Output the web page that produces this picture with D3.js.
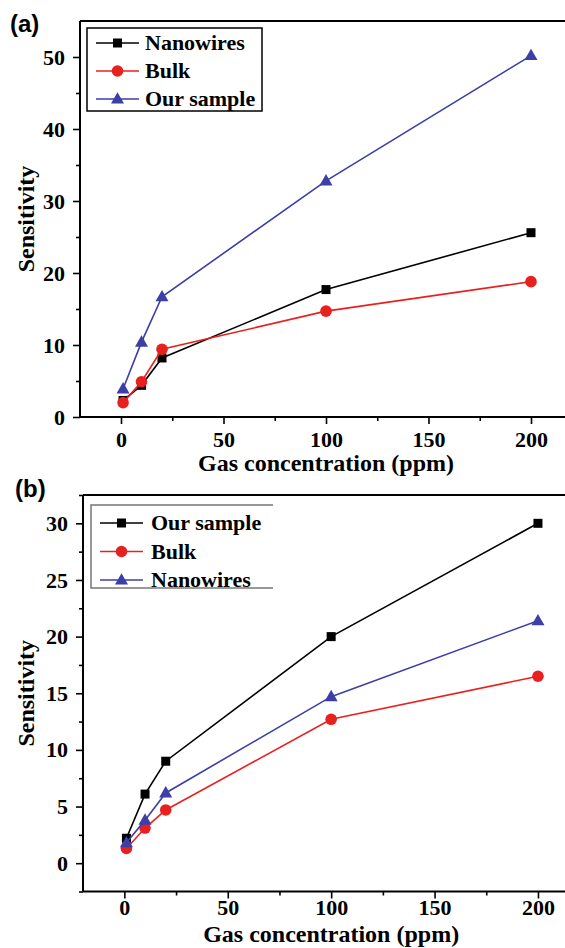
<!DOCTYPE html>
<html>
<head>
<meta charset="utf-8">
<script src="https://cdn.jsdelivr.net/npm/d3@7"></script>
<style>
  html, body { margin: 0; padding: 0; background: #fff; }
  svg { display: block; }
  text { font-family: "Times New Roman", "Liberation Serif", Tinos, "DejaVu Serif", "Noto Serif", serif; font-weight: bold; fill: #000; }
</style>
</head>
<body>
<svg id="chart" width="565" height="948"></svg>
<script>
// ---------- data ----------
const concentrations = [1, 10, 20, 100, 200];

// panel (a)
const aNanowires = [2.3, 4.4, 8.2, 17.7, 25.6];
const aBulk      = [2.0, 4.9, 9.4, 14.7, 18.8];
const aOurSample = [3.9, 10.4, 16.7, 32.8, 50.2];

// panel (b)
const bOurSample = [2.2, 6.1, 9.0, 20.0, 30.0];
const bBulk      = [1.3, 3.1, 4.7, 12.7, 16.5];
const bNanowires = [1.8, 3.8, 6.2, 14.7, 21.4];

const xTicks = [0, 50, 100, 150, 200];
const aYTicks = [0, 10, 20, 30, 40, 50];
const bYTicks = [0, 5, 10, 15, 20, 25, 30];

const xTitle = "Gas concentration (ppm)";
const yTitle = "Sensitivity";

const BLACK = "#000000", RED = "#e8211f", BLUE = "#3b3fa6";
const SERIF = '"Times New Roman", "Liberation Serif", Tinos, "DejaVu Serif", "Noto Serif", serif';

const svg = d3.select("#chart");

function drawPanel(cfg) {
  const g = svg.append("g");
  const x = d3.scaleLinear().domain([-20, 220]).range([cfg.left, cfg.left + cfg.xPer * 240]);
  const y = d3.scaleLinear().domain(cfg.yDomain).range([cfg.bottom, cfg.top]);

  // frame: top line and right line
  g.append("line").attr("x1", x(-20)).attr("x2", x(220)).attr("y1", cfg.top).attr("y2", cfg.top)
    .attr("stroke", "#000").attr("stroke-width", 2);
  g.append("line").attr("x1", x(220)).attr("x2", x(220)).attr("y1", cfg.top).attr("y2", cfg.bottom)
    .attr("stroke", "#000").attr("stroke-width", 2);

  // x axis
  const xAxis = d3.axisBottom(x).tickValues(xTicks).tickSize(7).tickPadding(cfg.xPad).tickFormat(d3.format("d"));
  const xa = g.append("g").attr("transform", `translate(0,${cfg.bottom})`).call(xAxis);
  const xMinor = d3.axisBottom(x).tickValues([25, 75, 125, 175]).tickSize(4).tickFormat("");
  g.append("g").attr("transform", `translate(0,${cfg.bottom})`).call(xMinor).select(".domain").remove();

  // y axis
  const yAxis = d3.axisLeft(y).tickValues(cfg.yTicks).tickSize(7).tickPadding(8).tickFormat(d3.format("d"));
  const ya = g.append("g").attr("transform", `translate(${cfg.left},0)`).call(yAxis);
  const yMinor = d3.axisLeft(y).tickValues(cfg.yMinor).tickSize(4).tickFormat("");
  g.append("g").attr("transform", `translate(${cfg.left},0)`).call(yMinor).select(".domain").remove();

  g.selectAll("g").attr("font-family", null);
  g.selectAll(".domain").attr("stroke", "#000").attr("stroke-width", 2);
  g.selectAll(".tick line").attr("stroke", "#000").attr("stroke-width", 1.6);
  g.selectAll(".tick text").style("font-family", SERIF)
    .style("font-weight", "bold").style("font-size", "22px").attr("fill", "#000");
  xa.selectAll(".domain").attr("d", `M${x(-20)},0H${x(220)}`);
  ya.selectAll(".domain").attr("d", `M0,${cfg.top}V${cfg.bottom}`);

  // titles
  g.append("text").attr("x", x(100)).attr("y", cfg.xTitleY).attr("text-anchor", "middle")
    .style("font-family", SERIF).style("font-size", "24px").text(xTitle);
  g.append("text").attr("transform", `translate(${cfg.yTitleX},${(cfg.top + cfg.bottom) / 2}) rotate(-90)`)
    .attr("text-anchor", "middle").style("font-family", SERIF).style("font-size", "24px").text(yTitle);
  g.append("text").attr("x", cfg.labelX).attr("y", cfg.labelY)
    .style("font-family", '"Liberation Sans", Arial, sans-serif').style("font-size", "24px").text(cfg.label);

  // series
  const line = d3.line().x((d, i) => x(concentrations[i])).y(d => y(d));
  cfg.series.forEach(s => {
    g.append("path").datum(s.values).attr("d", line).attr("fill", "none")
      .attr("stroke", s.color).attr("stroke-width", 1.6);
    drawMarkers(g, s.values.map((v, i) => [x(concentrations[i]), y(v)]), s.shape, s.color);
  });

  // legend
  const lg = g.append("g");
  const L = cfg.legend;
  if (L.full) {
    lg.append("rect").attr("x", L.x).attr("y", L.y).attr("width", L.w).attr("height", L.h)
      .attr("fill", "#fff").attr("stroke", "#000").attr("stroke-width", 1.5);
  } else {
    lg.append("path").attr("d", `M${L.x + L.w},${L.y}H${L.x}V${L.y + L.h}H${L.x + L.w}`)
      .attr("fill", "none").attr("stroke", "#777").attr("stroke-width", 1.5);
  }
  cfg.series.forEach((s, i) => {
    const yy = L.y + L.row0 + i * L.dy;
    lg.append("line").attr("x1", L.x + L.lx1).attr("x2", L.x + L.lx2).attr("y1", yy).attr("y2", yy)
      .attr("stroke", s.color).attr("stroke-width", 1.6);
    drawMarkers(lg, [[L.x + (L.lx1 + L.lx2) / 2, yy]], s.shape, s.color);
    lg.append("text").attr("x", L.x + L.tx).attr("y", yy + 7)
      .style("font-family", SERIF).style("font-size", "22px").text(s.name);
  });
}

function drawMarkers(g, pts, shape, color) {
  pts.forEach(([px, py]) => {
    if (shape === "square") {
      g.append("rect").attr("x", px - 4.5).attr("y", py - 4.5).attr("width", 9).attr("height", 9).attr("fill", color);
    } else if (shape === "circle") {
      g.append("circle").attr("cx", px).attr("cy", py).attr("r", 5.8).attr("fill", color);
    } else {
      const s = 6.5;
      g.append("path").attr("d", `M${px},${py - s * 1.05}L${px + s},${py + s * 0.7}L${px - s},${py + s * 0.7}Z`).attr("fill", color);
    }
  });
}

drawPanel({
  left: 80, top: 21, bottom: 417, xPer: 2.05, xPad: 7,
  yDomain: [0, 55], yTicks: aYTicks, yMinor: [5, 15, 25, 35, 45],
  xTitleY: 471, yTitleX: 34, label: "(a)", labelX: 10, labelY: 32,
  series: [
    { name: "Nanowires", values: aNanowires, color: BLACK, shape: "square" },
    { name: "Bulk", values: aBulk, color: RED, shape: "circle" },
    { name: "Our sample", values: aOurSample, color: BLUE, shape: "triangle" }
  ],
  legend: { full: true, x: 87, y: 28, w: 175, h: 83, row0: 15, dy: 28, lx1: 9, lx2: 52, tx: 58 }
});

drawPanel({
  left: 83, top: 495, bottom: 891.5, xPer: 2.068, xPad: 1,
  yDomain: [-2.5, 32.5], yTicks: bYTicks, yMinor: [-2.5, 2.5, 7.5, 12.5, 17.5, 22.5, 27.5, 32.5],
  xTitleY: 942, yTitleX: 34, label: "(b)", labelX: 15, labelY: 497,
  series: [
    { name: "Our sample", values: bOurSample, color: BLACK, shape: "square" },
    { name: "Bulk", values: bBulk, color: RED, shape: "circle" },
    { name: "Nanowires", values: bNanowires, color: BLUE, shape: "triangle" }
  ],
  legend: { full: false, x: 91, y: 505, w: 182, h: 83, row0: 18, dy: 28.5, lx1: 9, lx2: 52, tx: 60 }
});
</script>
</body>
</html>
